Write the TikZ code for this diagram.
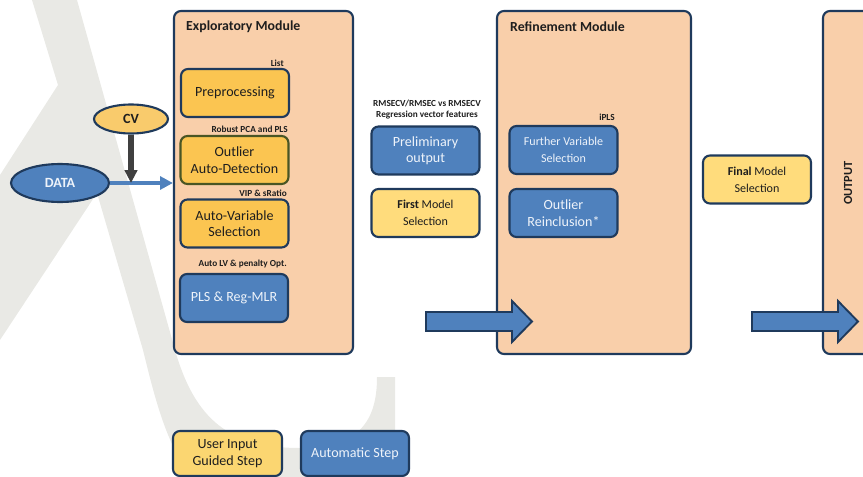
\documentclass[tikz,border=0pt]{standalone}
\usepackage{fontspec}
\setmainfont{Carlito}
\usetikzlibrary{positioning,arrows.meta,shapes.geometric}

\definecolor{navy}{HTML}{1F3A5C}
\definecolor{peach}{HTML}{F9CFAA}
\definecolor{steelblue}{HTML}{4F81BD}
\definecolor{ambergold}{HTML}{FBC551}
\definecolor{lightgold}{HTML}{FFDC7C}
\definecolor{keygold}{HTML}{FBD671}
\definecolor{cvgold}{HTML}{F9CB6C}
\definecolor{paleblue}{HTML}{EEF3FA}
\definecolor{inkdark}{HTML}{1E1E1E}
\definecolor{moss}{HTML}{4A5624}
\definecolor{shaftgray}{HTML}{404040}
\definecolor{watermark}{HTML}{E9E9E5}

\begin{document}
\begin{tikzpicture}[
        x=0.03cm, y=-0.03cm,
        every node/.style={font=\fontsize{12}{14}\selectfont, text=inkdark},
        module/.style={draw=navy, fill=peach, line width=1.8pt, rounded corners=6pt,
                       minimum height=10.29cm, inner sep=0pt},
        stepbox/.style={draw=navy, line width=1.8pt, rounded corners=6pt, align=center,
                        minimum width=3.24cm, minimum height=1.44cm, inner sep=2pt},
        userstep/.style={stepbox, fill=ambergold},
        autostep/.style={stepbox, fill=steelblue, text=paleblue},
        pickstep/.style={stepbox, fill=lightgold, font=\fontsize{10.3}{14.5}\selectfont},
        note/.style={font=\bfseries\fontsize{7.9}{8.8}\selectfont, inner sep=0pt, align=center},
        title/.style={font=\bfseries\fontsize{11.8}{13}\selectfont, anchor=west, inner sep=0pt},
        oval/.style={ellipse, draw=navy, line width=1.8pt, inner sep=0pt,
                     font=\bfseries\fontsize{12}{14}\selectfont},
        feed/.style={-{Triangle[length=11pt,width=11pt]}, line width=3.4pt, draw=steelblue},
        cvfeed/.style={-{Triangle[length=11pt,width=10.5pt]}, line width=4.4pt, draw=shaftgray},
        bigarrow/.style={draw=navy, fill=steelblue, line width=1.6pt, line join=miter}
    ]
        \useasboundingbox (0,0) rectangle (863,477);
        \clip (0,0) rectangle (863,477);
        \fill[watermark] (32,0) -- (77,0) -- (175,350)
            .. controls (195,420) and (230,448) .. (300,448)
            .. controls (360,448) and (377,420) .. (377,377) -- (395,377) -- (395,430)
            .. controls (395,460) and (388,477) .. (380,490) -- (200,490)
            .. controls (170,450) and (160,420) .. (143,350)
            -- (97,193) -- (0,340) -- (0,175) -- (58,85) -- cycle;

        \node[module, minimum width=5.37cm] (explore) at (263.5,182.5) {};
        \node[module, minimum width=5.82cm] (refine)  at (594,182.5)   {};
        \node[module, minimum width=1.5cm]  (output)  at (848,182.5)   {};
        \node[title] (exploretitle) at (186,27) {Exploratory Module};
        \node[title] (refinetitle)  at (510,27) {Refinement Module};
        \node[rotate=90, font=\bfseries\fontsize{10.6}{12}\selectfont] (outputtext) at (848,183) {OUTPUT};

        \node[userstep] (prep)   at (235,93)    {Preprocessing};
        \node[userstep, draw=moss] (outdet) at (234.5,160) {Outlier\\Auto-Detection};
        \node[userstep] (varsel) at (234.5,223.5) {Auto-Variable\\Selection};
        \node[autostep] (plsmlr) at (234,298)   {PLS \& Reg-MLR};
        \node[note, anchor=east] (listlab)   at (284,63)  {List};
        \node[note, anchor=east] (robustlab) at (288,129) {Robust PCA and PLS};
        \node[note, anchor=east] (viplab)    at (287,193) {VIP \& sRatio};
        \node[note, anchor=east] (lvlab)     at (287,264) {Auto LV \& penalty Opt.};

        \node[oval, fill=cvgold, minimum width=2.22cm, minimum height=0.87cm] (cv) at (131,119) {CV};
        \node[oval, fill=steelblue, text=paleblue, minimum width=2.94cm, minimum height=1.14cm] (data) at (60,183) {DATA};

        \node[note] (rmselab) at (427,109.5) {RMSECV/RMSEC vs RMSECV\\Regression vector features};
        \node[autostep] (prelim)   at (425.5,150.5) {Preliminary\\output};
        \node[pickstep] (firstsel) at (425.5,213)   {{\bfseries First} Model\\Selection};

        \node[note, anchor=east] (ipls) at (615,117) {iPLS};
        \node[autostep, font=\fontsize{10.3}{14.5}\selectfont] (furthersel) at (563.5,150) {Further Variable\\Selection};
        \node[autostep] (reincl) at (563.5,213) {Outlier\\Reinclusion*};

        \node[pickstep] (finalsel) at (757,179.5) {{\bfseries Final} Model\\Selection};

        \node[stepbox, fill=keygold, minimum width=3.27cm, minimum height=1.35cm] (userkey) at (227.5,453.5) {User Input\\Guided Step};
        \node[autostep, minimum height=1.35cm] (autokey) at (355,453.5) {Automatic Step};

        \draw[feed] (data) -- (data -| explore.west);
        \draw[cvfeed] (cv) -- (cv |- data);
        \draw[bigarrow] (426,312) -- (512,312) -- (512,301) -- (532,321.5)
            -- (512,342) -- (512,331) -- (426,331) -- cycle;
        \draw[bigarrow] (752,312) -- (838,312) -- (838,301) -- (858,321.5)
            -- (838,342) -- (838,331) -- (752,331) -- cycle;
    \end{tikzpicture}
\end{document}
